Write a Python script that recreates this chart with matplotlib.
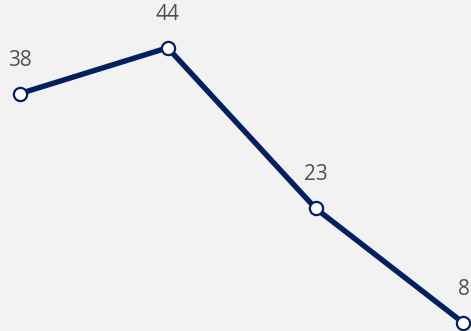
import matplotlib
matplotlib.use("Agg")
import matplotlib.pyplot as plt

# values
categories = ["A", "B", "C", "D"]
values = [38, 44, 23, 8]
labels = ["38", "44", "23", "8"]

line_color = "#002060"
bg = "#f2f2f2"

fig = plt.figure(figsize=(4.71, 3.31), dpi=100, facecolor=bg)
ax = fig.add_axes([0, 0, 1, 1])
ax.set_facecolor(bg)

x = list(range(len(categories)))
ax.plot(x, values, color=line_color, linewidth=3.9, solid_capstyle="round",
        marker="o", markersize=9.5, markerfacecolor="white",
        markeredgecolor=line_color, markeredgewidth=1.6, clip_on=False)

for xi, v, lab in zip(x, values, labels):
    ax.annotate(lab, (xi, v), xytext=(0, 24), textcoords="offset points",
                ha="center", va="center", fontsize=15, color="#505050",
                family="Open Sans")

ax.set_xlim(-0.1334, 3.051)
ax.set_ylim(6.95, 50.25)
ax.axis("off")

fig.savefig("out.png", dpi=100, facecolor=bg)
